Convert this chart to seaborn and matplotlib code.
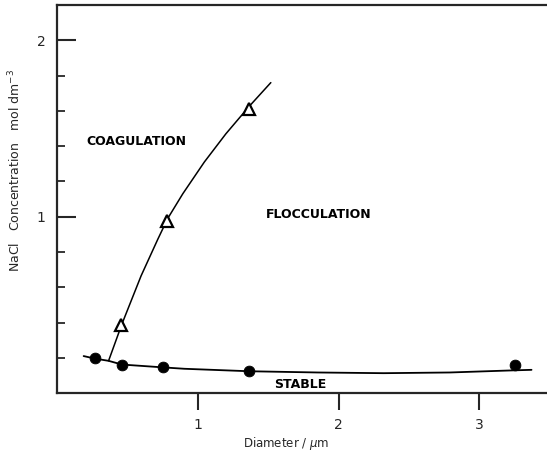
import matplotlib
matplotlib.use("Agg")
import matplotlib.pyplot as plt
from matplotlib.ticker import MultipleLocator
import seaborn as sns

# Measured points: stable limit (filled circles) and coagulation limit (open triangles)
stable_diameter = [0.268, 0.462, 0.752, 1.365, 3.254]
stable_conc = [0.197, 0.159, 0.147, 0.126, 0.159]

coag_diameter = [0.452, 0.783, 1.361]
coag_conc = [0.385, 0.976, 1.609]

# Drawn boundary curves
stable_curve_x = [0.19, 0.268, 0.367, 0.462, 0.752, 0.905, 1.365, 1.85, 2.32, 2.79, 3.24, 3.37]
stable_curve_y = [0.210, 0.196, 0.183, 0.162, 0.146, 0.138, 0.124, 0.117, 0.113, 0.117, 0.129, 0.132]

coag_curve_x = [0.367, 0.462, 0.598, 0.717, 0.787, 0.894, 1.047, 1.200, 1.365, 1.519]
coag_curve_y = [0.183, 0.392, 0.665, 0.873, 0.990, 1.130, 1.310, 1.470, 1.625, 1.760]

x_ticks = [1, 2, 3]
y_ticks = [1, 2]

sns.set_style("ticks")
plt.rcParams["font.family"] = ["DejaVu Sans"]

fig = plt.figure(figsize=(5.47, 4.55), dpi=100)
ax = fig.add_axes([0.104, 0.136, 0.896, 0.853])

sns.lineplot(x=stable_curve_x, y=stable_curve_y, ax=ax, color="black",
             linewidth=1.3, sort=False, estimator=None)
sns.lineplot(x=coag_curve_x, y=coag_curve_y, ax=ax, color="black",
             linewidth=1.1, sort=False, estimator=None)

sns.scatterplot(x=stable_diameter, y=stable_conc, ax=ax, marker="o", s=60,
                color="black", edgecolor="black", zorder=5)
ax.plot(coag_diameter, coag_conc, linestyle="none", marker="^", markersize=8,
        markerfacecolor="white", markeredgecolor="black", markeredgewidth=1.6, zorder=5)

ax.set_xlim(0, 3.48)
ax.set_ylim(0, 2.2)

ax.xaxis.set_major_locator(plt.FixedLocator(x_ticks))
ax.yaxis.set_major_locator(plt.FixedLocator(y_ticks))
ax.yaxis.set_minor_locator(MultipleLocator(0.2))

ax.tick_params(axis="x", which="major", direction="out", length=12, width=1.5,
               labelsize=10, pad=6, top=False)
ax.tick_params(axis="y", which="major", direction="in", length=14, width=1.5,
               labelsize=10, pad=8, right=False)
ax.tick_params(axis="y", which="minor", direction="in", length=6, width=1.3, right=False)

for side in ["left", "bottom", "top"]:
    ax.spines[side].set_linewidth(1.6)
ax.spines["right"].set_visible(False)

text_kw = dict(fontsize=9, fontweight="bold", color="black")
ax.text(0.209, 1.424, "COAGULATION", ha="left", va="center", **text_kw)
ax.text(1.484, 1.014, "FLOCCULATION", ha="left", va="center", **text_kw)
ax.text(1.725, 0.05, "STABLE", ha="center", va="center", **text_kw)

ax.set_xlabel("")
ax.set_ylabel("")
fig.text(15 / 547, 1 - 170 / 455, r"NaCl   Concentration   mol dm$^{-3}$",
         rotation=90, ha="center", va="center", fontsize=9)
fig.text(286 / 547, 1 - 443 / 455, r"Diameter $/$ $\mu$m",
         ha="center", va="center", fontsize=8.5)

fig.savefig("out.png", dpi=100)
